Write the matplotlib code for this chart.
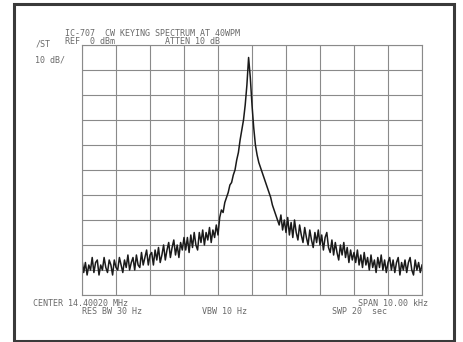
import numpy as np
import matplotlib
matplotlib.use('Agg')
import matplotlib.pyplot as plt
from matplotlib.patches import Rectangle

# sweep: -5 kHz .. +5 kHz around center, 10 dB/div, ref 0 dBm
span_khz = 10.0
level_db = [
    # -5.00 .. -4.00
    -86, -91, -87, -92, -88, -90, -85, -91, -87, -86, -92, -88, -90, -85, -89, -91, -86, -88, -92, -86, -89,
    # -3.95 .. -3.00
    -90, -85, -88, -91, -86, -89, -84, -90, -87, -85, -90, -84, -88, -89, -83, -88, -85, -82, -88, -84,
    # -2.95 .. -2.00
    -83, -88, -82, -86, -81, -87, -84, -80, -86, -82, -79, -85, -81, -78, -84, -80, -85, -79, -82, -77,
    # -1.95 .. -1.00
    -82, -77, -83, -76, -81, -75, -80, -82, -75, -79, -74, -80, -75, -78, -73, -79, -74, -77, -72, -76,
    # -0.95 .. 0.00
    -69, -66, -67, -63, -61, -59, -56, -55, -52, -50, -46, -43, -38, -34, -30, -24, -16, -5, -13, -24,
    # 0.05 .. 1.00
    -33, -40, -44, -47, -49, -51, -53, -55, -57, -59, -61, -64, -66, -68, -70, -72, -68, -74, -70, -75,
    # 1.05 .. 2.00
    -69, -76, -71, -77, -70, -75, -78, -72, -76, -79, -73, -77, -80, -74, -78, -81, -75, -79, -74, -80,
    # 2.05 .. 3.00
    -76, -82, -77, -75, -81, -83, -78, -84, -79, -83, -86, -80, -84, -79, -85, -81, -87, -82, -86, -83,
    # 3.05 .. 4.00
    -87, -82, -88, -84, -89, -83, -88, -85, -90, -84, -89, -86, -91, -85, -89, -84, -90, -86, -91, -87,
    # 4.05 .. 5.00
    -85, -90, -86, -91, -87, -85, -92, -87, -90, -86, -91, -87, -85, -90, -92, -86, -90, -87, -91, -88,
]
freq_khz = np.linspace(-span_khz / 2, span_khz / 2, len(level_db))

title_line = "IC-707  CW KEYING SPECTRUM AT 40WPM"
ref_text = "REF  0 dBm"
atten_text = "ATTEN 10 dB"
scale_text = "10 dB/"
center_text = "CENTER 14.40020 MHz"
span_text = "SPAN 10.00 kHz"
rbw_text = "RES BW 30 Hz"
vbw_text = "VBW 10 Hz"
swp_text = "SWP 20  sec"

W, H = 463, 342
fig = plt.figure(figsize=(W / 100, H / 100), dpi=100)
fig.patch.set_facecolor('white')

# outer frame of the scanned figure
fig.patches.append(Rectangle((14 / W, 1 / H), 440 / W, 337 / H, transform=fig.transFigure,
                             fill=False, edgecolor='#3a3a3a', linewidth=2.2))

ax = fig.add_axes([82 / W, 47 / H, 340 / W, 250 / H])
ax.set_xlim(-5, 5)
ax.set_ylim(-100, 0)
ax.set_xticks(np.arange(-5, 6, 1))
ax.set_yticks(np.arange(-100, 1, 10))
ax.grid(True, color='#8a8a8a', linewidth=0.8)
ax.tick_params(length=0, labelbottom=False, labelleft=False)
for s in ax.spines.values():
    s.set_color('#8a8a8a')
    s.set_linewidth(0.8)

ax.plot(freq_khz, level_db, color='#1a1a1a', linewidth=1.1)

txt = dict(family='DejaVu Sans Mono', fontsize=6.0, color='#6a6a6a', transform=fig.transFigure)
fig.text(65 / W, 1 - 33 / H, title_line, va='center', **txt)
fig.text(65 / W, 1 - 41 / H, ref_text, va='center', **txt)
fig.text(165 / W, 1 - 41 / H, atten_text, va='center', **txt)
fig.text(36 / W, 1 - 44 / H, "/ST", va='center', **txt)
fig.text(35 / W, 1 - 60 / H, scale_text, va='center', **txt)
fig.text(33 / W, 1 - 303 / H, center_text, va='center', **txt)
fig.text(428 / W, 1 - 303 / H, span_text, va='center', ha='right', **txt)
fig.text(82 / W, 1 - 312 / H, rbw_text, va='center', **txt)
fig.text(202 / W, 1 - 312 / H, vbw_text, va='center', **txt)
fig.text(332 / W, 1 - 312 / H, swp_text, va='center', **txt)

fig.savefig('out.png', dpi=100)
